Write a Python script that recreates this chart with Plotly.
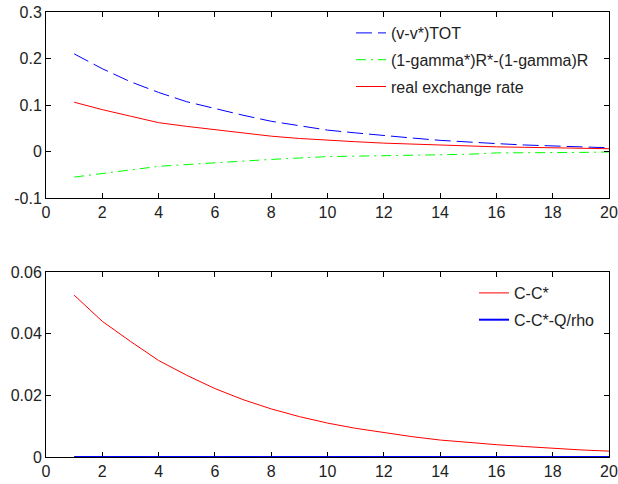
import plotly.graph_objects as go

periods = list(range(1, 21))

tot_diff = [0.210, 0.178, 0.150, 0.127, 0.107, 0.092, 0.078, 0.065, 0.055, 0.046,
            0.040, 0.034, 0.029, 0.024, 0.020, 0.017, 0.014, 0.012, 0.010, 0.008]
gamma_diff = [-0.055, -0.047, -0.039, -0.032, -0.028, -0.024, -0.020, -0.017, -0.014, -0.011,
              -0.010, -0.009, -0.008, -0.007, -0.006, -0.003, -0.003, -0.002, -0.002, -0.001]
rer = [0.106, 0.090, 0.076, 0.062, 0.054, 0.047, 0.040, 0.033, 0.028, 0.024,
       0.021, 0.018, 0.016, 0.013, 0.012, 0.010, 0.009, 0.008, 0.007, 0.006]

cc = [0.0525, 0.0440, 0.0375, 0.0313, 0.0265, 0.0222, 0.0186, 0.0156, 0.0131, 0.0110,
      0.0093, 0.0079, 0.0066, 0.0055, 0.0047, 0.0040, 0.0034, 0.0028, 0.0023, 0.0019]
cc_q = [0.0] * 20

top_names = ["(v-v*)TOT", "(1-gamma*)R*-(1-gamma)R", "real exchange rate"]
bot_names = ["C-C*", "C-C*-Q/rho"]

x_ticks = list(range(0, 21, 2))
top_yticks = [-0.1, 0, 0.1, 0.2, 0.3]
top_ylabels = ["-0.1", "0", "0.1", "0.2", "0.3"]
bot_yticks = [0, 0.02, 0.04, 0.06]
bot_ylabels = ["0", "0.02", "0.04", "0.06"]

fig = go.Figure()
fig.add_trace(go.Scatter(x=periods, y=tot_diff, name=top_names[0], mode="lines",
                         line=dict(color="#0000ff", width=1, dash="16px,6px"),
                         xaxis="x", yaxis="y", legend="legend", legendgroup="a"))
fig.add_trace(go.Scatter(x=periods, y=gamma_diff, name=top_names[1], mode="lines",
                         line=dict(color="#00ff00", width=1, dash="10px,5px,2px,5px"),
                         xaxis="x", yaxis="y", legend="legend", legendgroup="b"))
fig.add_trace(go.Scatter(x=periods, y=rer, name=top_names[2], mode="lines",
                         line=dict(color="#ff0000", width=1),
                         xaxis="x", yaxis="y", legend="legend", legendgroup="c"))
fig.add_trace(go.Scatter(x=periods, y=cc, name=bot_names[0], mode="lines",
                         line=dict(color="#ff0000", width=1),
                         xaxis="x2", yaxis="y2", legend="legend2", legendgroup="d"))
fig.add_trace(go.Scatter(x=periods, y=cc_q, name=bot_names[1], mode="lines",
                         line=dict(color="#0000ff", width=2),
                         xaxis="x2", yaxis="y2", legend="legend2", legendgroup="e"))

axis_common = dict(showline=True, linecolor="black", linewidth=1, mirror="allticks",
                   ticks="inside", ticklen=5, tickcolor="black", showgrid=False,
                   zeroline=False, automargin=False,
                   tickfont=dict(size=16, color="#222222"))

fig.update_layout(
    width=618, height=484,
    margin=dict(l=0, r=0, t=0, b=0),
    paper_bgcolor="white", plot_bgcolor="white",
    font=dict(family="Liberation Sans, Arial, sans-serif", size=16, color="#222222"),
    xaxis=dict(domain=[46/618, 609/618], range=[0, 20], tickvals=x_ticks, anchor="y", **axis_common),
    yaxis=dict(domain=[1-198/484, 1-12/484], range=[-0.1, 0.3], tickvals=top_yticks,
               ticktext=top_ylabels, anchor="x", **axis_common),
    xaxis2=dict(domain=[46/618, 609/618], range=[0, 20], tickvals=x_ticks, anchor="y2", **axis_common),
    yaxis2=dict(domain=[1-457/484, 1-272/484], range=[0, 0.06], tickvals=bot_yticks,
                ticktext=bot_ylabels, anchor="x2", **axis_common),
    legend=dict(x=351/618, y=1-16/484, xanchor="left", yanchor="top",
                bgcolor="rgba(0,0,0,0)", font=dict(size=16, color="#222222"),
                tracegroupgap=3, itemwidth=30),
    legend2=dict(x=474/618, y=1-276/484, xanchor="left", yanchor="top",
                 bgcolor="rgba(0,0,0,0)", font=dict(size=16, color="#222222"),
                 tracegroupgap=3, itemwidth=30),
    showlegend=True,
)

fig.write_html("out.html")
